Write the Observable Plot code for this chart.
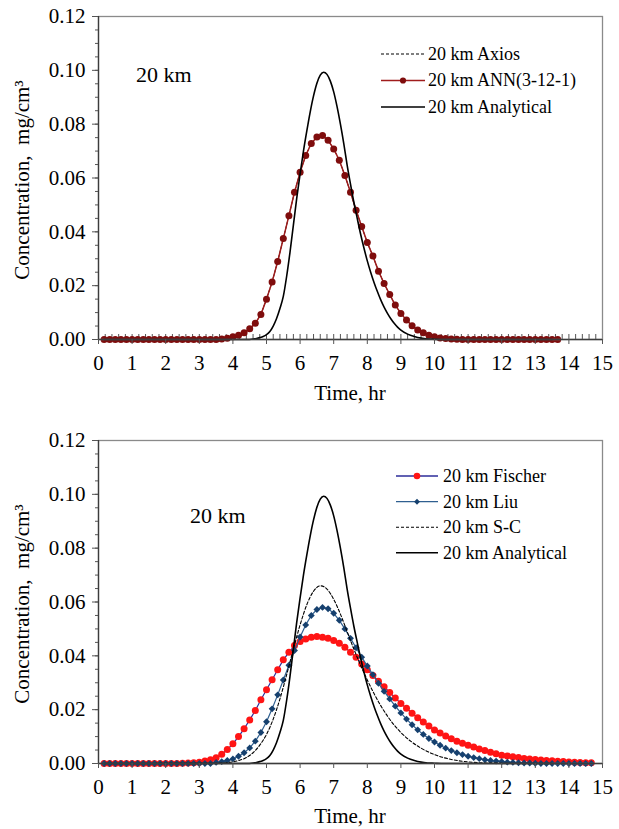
<!DOCTYPE html>
<html><head><meta charset="utf-8">
<script src="https://cdn.jsdelivr.net/npm/d3@7"></script>
<script src="https://cdn.jsdelivr.net/npm/@observablehq/plot@0.6"></script>
<style>
body{margin:0;background:#fff}
#chart{width:619px}
#chart svg{display:block}
</style>
</head><body><div id="chart"></div>
<script>
// ---------- axis ticks ----------
const yMajorTicks = [0, 0.02, 0.04, 0.06, 0.08, 0.10, 0.12];
const yMinorTicks = d3.range(0, 0.1201, 0.005);
const xMajorTicks = [0,1,2,3,4,5,6,7,8,9,10,11,12,13,14,15];
const xMinorTicks = d3.range(0.2, 15, 0.2);

// ---------- top panel data (hr, mg/cm3) ----------
const annTime = [0.167,0.333,0.5,0.667,0.833,1,1.167,1.333,1.5,1.667,1.833,2,2.167,2.333,2.5,2.667,2.833,3,3.167,3.333,3.5,3.667,3.833,4,4.167,4.333,4.5,4.667,4.833,5,5.167,5.333,5.5,5.667,5.833,6,6.167,6.333,6.5,6.667,6.833,7,7.167,7.333,7.5,7.667,7.833,8,8.167,8.333,8.5,8.667,8.833,9,9.167,9.333,9.5,9.667,9.833,10,10.167,10.333,10.5,10.667,10.833,11,11.167,11.333,11.5,11.667,11.833,12,12.167,12.333,12.5,12.667,12.833,13,13.167,13.333,13.5,13.667];
const annConc = [0,0,0,0,0,0,0,0,0,0,0,0,0,0,0,0,0,0,0,0,0,
  0.0002,0.0005,0.0010,0.0016,0.0025,0.0040,0.0060,0.0093,0.0150,0.0214,0.0290,0.0375,0.0460,0.0547,0.0621,0.0684,0.0728,0.0752,0.0758,0.0740,0.0708,0.0666,0.0609,0.0547,0.0480,0.0420,0.0360,0.0310,0.0254,0.0208,0.0167,0.0128,0.0097,0.0072,0.0051,0.0035,0.0025,0.0016,0.0010,0.0006,0.0004,0.0002,0.0001,
  0,0,0,0,0,0,0,0,0,0,0,0,0,0,0,0,0,0];
const axiosTime = annTime.concat([13.833,14,14.167,14.333,14.5,14.667,14.833,15]);
const axiosConc = annConc.concat([0,0,0,0,0,0,0,0]);

const analyticalTime = [0.167,4.4,4.6,4.7,4.8,4.9,5.0,5.1,5.2,5.3,5.4,5.5,5.6,5.7,5.8,5.9,6.0,6.1,6.2,6.3,6.4,6.5,6.6,6.7,6.8,6.9,7.0,7.1,7.2,7.3,7.4,7.5,7.6,7.7,7.8,7.9,8.0,8.1,8.2,8.3,8.4,8.5,8.6,8.7,8.8,8.9,9.0,9.2,9.4,9.6,9.8,10.0,10.2,13.5];
const analyticalConc = [0,0,0.0002,0.0004,0.0007,0.0011,0.0018,0.0030,0.0050,0.0078,0.0115,0.0160,0.0235,0.0325,0.0425,0.0525,0.0615,0.0700,0.0775,0.0845,0.0905,0.0952,0.0982,0.0993,0.0985,0.0960,0.0920,0.0865,0.0800,0.0728,0.0648,0.0577,0.0510,0.0450,0.0392,0.0340,0.0292,0.0250,0.0212,0.0178,0.0147,0.0120,0.0097,0.0077,0.0060,0.0046,0.0035,0.0020,0.0011,0.0005,0.0002,0.0001,0,0];

// ---------- bottom panel data ----------
const modelTime = annTime.concat([13.833,14,14.167,14.333,14.5,14.667]);
const fischerConc = [0,0,0,0,0,0,0,0,0,0,0,0,0,0,
  0.0001,0.0002,0.0003,0.0005,0.0009,0.0014,0.0021,0.0034,0.0052,0.0073,0.0100,0.0129,0.0162,0.0197,0.0237,0.0274,0.0311,0.0348,0.0385,0.0413,0.0438,0.0453,0.0463,0.0469,0.0472,0.0469,0.0465,0.0457,0.0447,0.0432,0.0413,0.0395,0.0370,0.0348,0.0327,0.0306,0.0285,0.0264,0.0243,0.0223,0.0205,0.0187,0.0170,0.0154,0.0139,0.0124,0.0113,0.0102,0.0092,0.0083,0.0075,0.0068,0.0061,0.0054,0.0048,0.0042,0.0036,0.0031,0.0028,0.0025,0.0022,0.0019,0.0017,0.0015,0.0013,0.0011,0.0010,0.0008,0.0007,0.0006,0.0005,0.0004,0.0003,0.0003];
const liuConc = [0,0,0,0,0,0,0,0,0,0,0,0,0,0,0,0,0,0,0,0,
  0.0004,0.0007,0.0011,0.0017,0.0027,0.0040,0.0058,0.0083,0.0115,0.0155,0.0203,0.0255,0.0310,0.0365,0.0420,0.0470,0.0515,0.0550,0.0572,0.0580,0.0575,0.0558,0.0532,0.0500,0.0465,0.0430,0.0395,0.0362,0.0330,0.0298,0.0268,0.0240,0.0213,0.0188,0.0165,0.0144,0.0125,0.0108,0.0093,0.0080,0.0068,0.0057,0.0048,0.0040,0.0033,0.0027,0.0022,0.0018,0.0014,0.0011,0.0009,0.0007,0.0005,0.0004,0.0003,0.0002,0.0002,0.0001,
  0,0,0,0,0,0,0,0,0,0];
const scTime = [0.167,3.5,3.8,4.0,4.2,4.4,4.6,4.8,5.0,5.2,5.4,5.6,5.8,6.0,6.2,6.4,6.6,6.8,7.0,7.2,7.4,7.6,7.8,8.0,8.2,8.4,8.6,8.8,9.0,9.3,9.6,10.0,10.5,11.0,11.5,12.0,12.5,15];
const scConc = [0,0.0001,0.0003,0.0006,0.0012,0.0022,0.0040,0.0068,0.0108,0.0165,0.0240,0.0330,0.0425,0.0515,0.0590,0.0640,0.0660,0.0648,0.0610,0.0555,0.0490,0.0425,0.0365,0.0310,0.0260,0.0215,0.0176,0.0143,0.0115,0.0082,0.0057,0.0033,0.0015,0.0006,0.0002,0.0001,0,0];

const rows = (ts, cs) => ts.slice(0, Math.min(ts.length, cs.length)).map((t, i) => ({t, c: cs[i]}));
const ann = rows(annTime, annConc);
const axios = rows(axiosTime, axiosConc);
const analytical = rows(analyticalTime, analyticalConc);
const fischer = rows(modelTime, fischerConc);
const liu = rows(modelTime, liuConc);
const sc = rows(scTime, scConc);

const FONT = "'Liberation Serif', 'Times New Roman', Times, serif";
const W = 619, ML = 98, MR = 17;

function axesMarks() {
  return [
    Plot.frame({stroke: "#8a8a8a", strokeWidth: 1.3}),
    Plot.ruleX([0], {stroke: "#3c3c3c", strokeWidth: 1.3}),
    Plot.ruleY([0], {stroke: "#3c3c3c", strokeWidth: 1.3}),
    Plot.axisY(yMinorTicks, {tickSize: 3, tickFormat: () => "", label: null, stroke: "#555"}),
    Plot.axisY(yMajorTicks, {tickSize: 6, tickPadding: 7, tickFormat: d3.format(".2f"), label: null, stroke: "#555", fontSize: 21}),
    Plot.axisX(xMajorTicks, {tickSize: 5, tickPadding: 11, tickFormat: d3.format("d"), label: null, stroke: "#555", fontSize: 21})
  ];
}

function addTitles(svg, {yCenter, xBaseline}) {
  const s = d3.select(svg);
  s.append("text")
    .attr("transform", `translate(29,${yCenter}) rotate(-90)`)
    .attr("text-anchor", "middle")
    .style("font-family", FONT).style("font-size", "21px").style("white-space", "pre")
    .attr("fill", "#000")
    .text("Concentration,  mg/cm³");
  s.append("text")
    .attr("x", (ML + W - MR) / 2).attr("y", xBaseline)
    .attr("text-anchor", "middle")
    .style("font-family", FONT).style("font-size", "21px")
    .attr("fill", "#000")
    .text("Time, hr");
}

function addLegend(svg, items, {x0, x1, tx, ys}) {
  const s = d3.select(svg).append("g").attr("text-anchor", "start");
  items.forEach((it, i) => {
    const y = ys[i];
    s.append("line").attr("x1", x0).attr("x2", x1).attr("y1", y).attr("y2", y)
      .attr("stroke", it.stroke).attr("stroke-width", it.width || 1.3)
      .attr("stroke-dasharray", it.dash || null);
    if (it.marker) {
      s.append("path")
        .attr("transform", `translate(${(x0 + x1) / 2},${y})`)
        .attr("d", d3.symbol(it.marker, it.size)())
        .attr("fill", it.fill);
    }
    s.append("text").attr("x", tx).attr("y", y).attr("dy", "0.33em")
      .attr("text-anchor", "start")
      .style("font-family", FONT).style("font-size", "18px").attr("fill", "#000")
      .text(it.label);
  });
}

function addNote(svg, x, y, label) {
  d3.select(svg).append("text").attr("x", x).attr("y", y).attr("text-anchor", "start")
    .style("font-family", FONT).style("font-size", "22px").attr("fill", "#000").text(label);
}

// ---------- top panel ----------
const topH = 410, topMT = 16, topMB = 71;
const topPlot = Plot.plot({
  width: W, height: topH, marginLeft: ML, marginRight: MR, marginTop: topMT, marginBottom: topMB,
  x: {domain: [0, 15]}, y: {domain: [0, 0.12]},
  style: {fontFamily: FONT, fontSize: "21px", color: "#000", background: "#fff", overflow: "visible"},
  marks: [
    Plot.ruleX(xMinorTicks, {stroke: "#555", strokeWidth: 1, insetTop: topH - topMT - topMB - 5}),
    Plot.line(axios, {x: "t", y: "c", stroke: "#000", strokeWidth: 1, strokeDasharray: "3,2"}),
    Plot.line(ann, {x: "t", y: "c", stroke: "#a01c1c", strokeWidth: 1.5}),
    Plot.dot(ann, {x: "t", y: "c", r: 3.5, fill: "#7f0d0d", stroke: "none"}),
    Plot.line(analytical, {x: "t", y: "c", curve: "monotone-x", stroke: "#000", strokeWidth: 1.6}),
    ...axesMarks()
  ]
});

// ---------- bottom panel ----------
const botH = 419, botMT = 30, botMB = 66;
const botPlot = Plot.plot({
  width: W, height: botH, marginLeft: ML, marginRight: MR, marginTop: botMT, marginBottom: botMB,
  x: {domain: [0, 15]}, y: {domain: [0, 0.12]},
  style: {fontFamily: FONT, fontSize: "21px", color: "#000", background: "#fff", overflow: "visible"},
  marks: [
    Plot.line(fischer, {x: "t", y: "c", stroke: "#2d2d9a", strokeWidth: 1.2}),
    Plot.dot(fischer, {x: "t", y: "c", r: 3.5, fill: "#ff1414", stroke: "none"}),
    Plot.line(liu, {x: "t", y: "c", stroke: "#2f5f90", strokeWidth: 1.2}),
    Plot.dot(liu, {x: "t", y: "c", r: 3.1, symbol: "diamond2", fill: "#16406e", stroke: "none"}),
    Plot.line(sc, {x: "t", y: "c", curve: "monotone-x", stroke: "#000", strokeWidth: 1.1, strokeDasharray: "3,2"}),
    Plot.line(analytical, {x: "t", y: "c", curve: "monotone-x", stroke: "#000", strokeWidth: 1.6}),
    ...axesMarks()
  ]
});

addTitles(topPlot, {yCenter: 180, xBaseline: 400});
addNote(topPlot, 136, 82, "20 km");
addLegend(topPlot, [
  {label: "20 km Axios", stroke: "#000", dash: "3,2", width: 1.1},
  {label: "20 km ANN(3-12-1)", stroke: "#a01c1c", width: 1.5, marker: d3.symbolCircle, size: 30, fill: "#7f0d0d"},
  {label: "20 km Analytical", stroke: "#000", width: 1.6}
], {x0: 381, x1: 425, tx: 428, ys: [54, 80.5, 107]});

addTitles(botPlot, {yCenter: 194, xBaseline: 413});
addNote(botPlot, 190, 113, "20 km");
addLegend(botPlot, [
  {label: "20 km Fischer", stroke: "#2d2d9a", width: 1.3, marker: d3.symbolCircle, size: 34, fill: "#ff1414"},
  {label: "20 km Liu", stroke: "#2f5f90", width: 1.3, marker: d3.symbolDiamond2, size: 22, fill: "#16406e"},
  {label: "20 km S-C", stroke: "#000", dash: "3,2", width: 1.1},
  {label: "20 km Analytical", stroke: "#000", width: 1.6}
], {x0: 396, x1: 438, tx: 443, ys: [66, 91.7, 117.3, 142.7]});

document.getElementById("chart").append(topPlot, botPlot);
</script>
</body></html>
